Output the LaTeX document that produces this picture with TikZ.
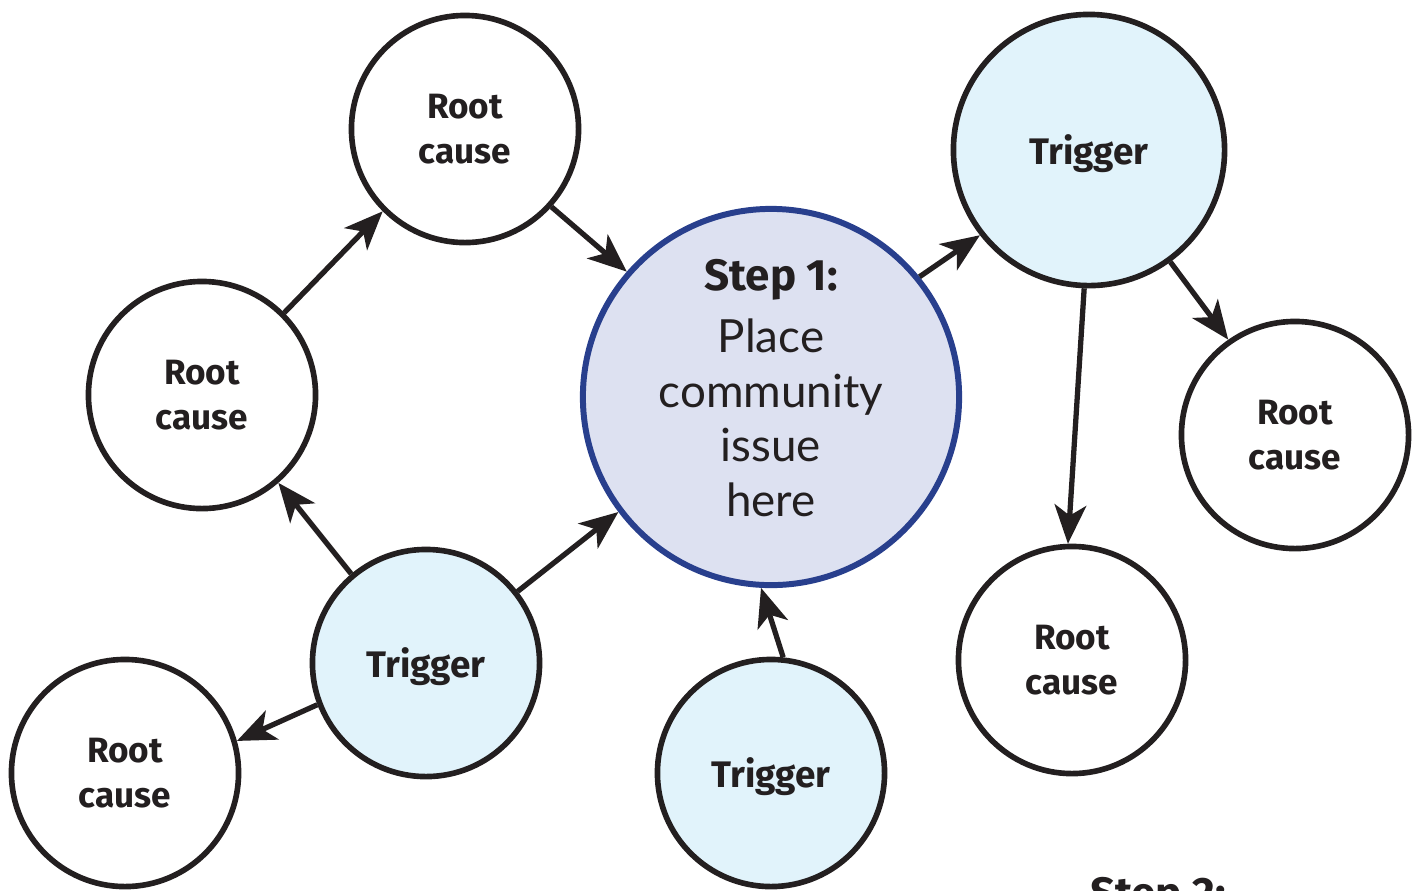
\documentclass[tikz,border=0pt]{standalone}
\usepackage{fontspec}
\setmainfont{Lato}
\newfontfamily\headfont{Fira Sans}
\usetikzlibrary{arrows.meta, positioning}
\definecolor{inkdark}{HTML}{231F20}
\definecolor{issueblue}{HTML}{283F8D}
\definecolor{issuefill}{HTML}{DDE1F1}
\definecolor{triggerfill}{HTML}{E1F3FB}
\tikzset{
  cause/.style={circle, draw=inkdark, fill=white, line width=1.6pt,
                minimum size=2.27cm, inner sep=0pt, align=center, text=inkdark,
                font=\headfont\fontsize{10}{12.8}\selectfont\bfseries},
  trig/.style={cause, fill=triggerfill, text depth=0pt,
               font=\headfont\fontsize{10.5}{12.8}\selectfont\bfseries},
  arr/.style={-{Stealth[length=11pt, width=9pt, inset=3pt]}, line width=1.5pt, draw=inkdark},
}

\begin{document}
\begin{tikzpicture}[
  x=0.01cm, y=-0.01cm,
  issuebox/.style={circle, draw=issueblue, fill=issuefill, line width=1.7pt,
                   minimum size=3.76cm, inner sep=0pt, align=center, text=inkdark,
                   text depth=0.18cm, font=\fontsize{13}{15.6}\selectfont}
]
  \useasboundingbox (0,0) rectangle (1418,890);

  \node[issuebox] (issue) at (771,397) {{\headfont\fontsize{12.5}{15.6}\selectfont\bfseries Step 1:}\\[2pt]Place\\community\\issue\\here};

  \node[cause] (causeTop) at (465,129) {Root\\cause};
  \node[cause] (causeLeft) at (202,395) {Root\\cause};
  \node[trig] (trigLeft) at (426,663) {Trigger};
  \node[cause] (causeLow) at (125,773) {Root\\cause};
  \node[trig] (trigLow) at (771,773) {Trigger};
  \node[trig, minimum size=2.71cm] (trigRight) at (1089,150) {Trigger};
  \node[cause] (causeRight) at (1295,435) {Root\\cause};
  \node[cause] (causeDown) at (1072,660) {Root\\cause};

  % next step, cut off by the page edge
  \node[anchor=base, text=inkdark, font=\headfont\fontsize{12.5}{15}\selectfont\bfseries] (steptwo) at (1158,908) {Step 2:};

  \draw[arr] (causeTop.318) -- (issue.139);
  \draw[arr] (causeLeft.45) -- (causeTop.225);
  \draw[arr] (trigLeft.130) -- (causeLeft.311);
  \draw[arr] (trigLeft.38) -- (issue.217);
  \draw[arr] (trigLeft.201) -- (causeLow.16);
  \draw[arr] (trigLow.84) -- (issue.267);
  \draw[arr] (issue.39) -- (trigRight.218);
  \draw[arr] (trigRight.268) -- (causeDown.92);
  \draw[arr] (trigRight.306) -- (causeRight.125);
\end{tikzpicture}
\end{document}
